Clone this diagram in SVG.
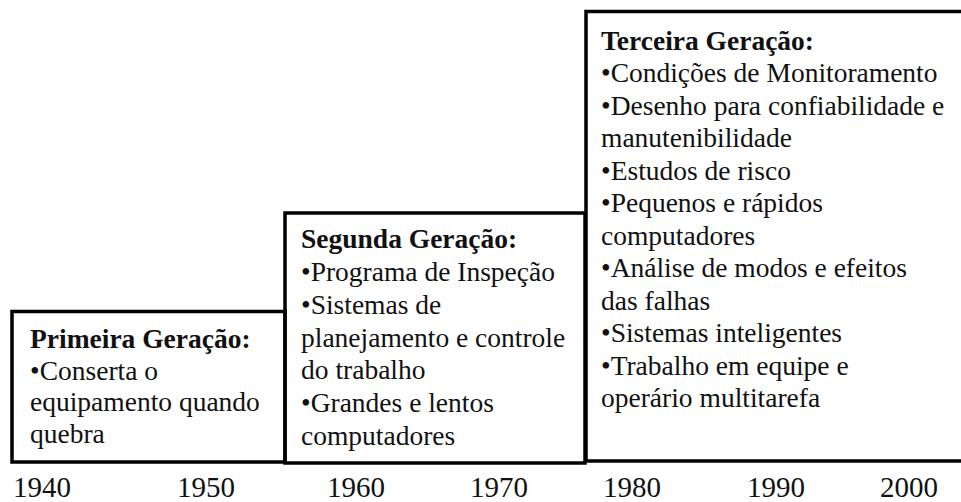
<svg xmlns="http://www.w3.org/2000/svg" width="961" height="502" viewBox="0 0 961 502">
<style>
.box{fill:none;stroke:#000;stroke-width:3.5}
.t{font-family:"Liberation Serif","Times New Roman",serif;font-size:27.5px;fill:#111}
.h{font-weight:bold}
.y{font-family:"Liberation Serif","Times New Roman",serif;font-size:29px;fill:#111}
</style>
<rect width="961" height="502" fill="#fff"/>
<g id="gen3">
<rect class="box" x="586" y="11.5" width="380" height="449.5"/>
<text class="t h" x="601" y="50">Terceira Geração:</text>
<text class="t" x="601" y="82">•Condições de Monitoramento</text>
<text class="t" x="601" y="115">•Desenho para confiabilidade e</text>
<text class="t" x="601" y="147">manutenibilidade</text>
<text class="t" x="601" y="180">•Estudos de risco</text>
<text class="t" x="601" y="212">•Pequenos e rápidos</text>
<text class="t" x="601" y="245">computadores</text>
<text class="t" x="601" y="277">•Análise de modos e efeitos</text>
<text class="t" x="601" y="310">das falhas</text>
<text class="t" x="601" y="342">•Sistemas inteligentes</text>
<text class="t" x="601" y="375">•Trabalho em equipe e</text>
<text class="t" x="601" y="407">operário multitarefa</text>
</g>
<g id="gen2">
<rect class="box" x="285" y="213" width="300" height="250"/>
<text class="t h" x="301" y="248">Segunda Geração:</text>
<text class="t" x="301" y="281">•Programa de Inspeção</text>
<text class="t" x="301" y="314">•Sistemas de</text>
<text class="t" x="301" y="347">planejamento e controle</text>
<text class="t" x="301" y="379">do trabalho</text>
<text class="t" x="301" y="412">•Grandes e lentos</text>
<text class="t" x="301" y="445">computadores</text>
</g>
<g id="gen1">
<rect class="box" x="12" y="311.5" width="273" height="150.5"/>
<text class="t h" x="30" y="348">Primeira Geração:</text>
<text class="t" x="30" y="380">•Conserta o</text>
<text class="t" x="30" y="411">equipamento quando</text>
<text class="t" x="30" y="443">quebra</text>
</g>
<g id="connectors"></g>
<g id="axis">
<text class="y" x="13" y="497">1940</text>
<text class="y" x="177" y="497">1950</text>
<text class="y" x="327" y="497">1960</text>
<text class="y" x="470" y="497">1970</text>
<text class="y" x="603" y="497">1980</text>
<text class="y" x="747" y="497">1990</text>
<text class="y" x="880" y="497">2000</text>
</g>
</svg>
